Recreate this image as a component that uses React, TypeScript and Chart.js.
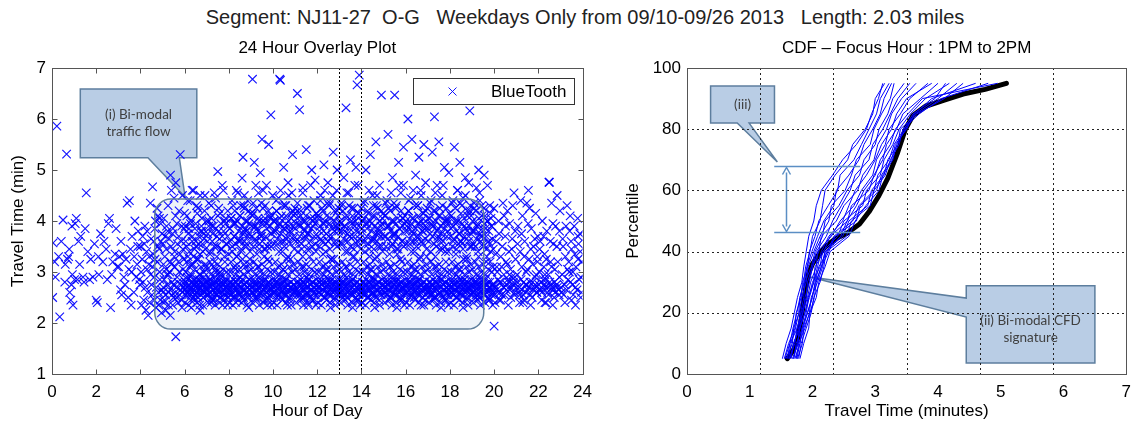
import React, { useEffect, useRef } from 'react';
import { Chart, registerables } from 'chart.js';
Chart.register(...registerables);

const FONT = "'Liberation Sans', Arial, Helvetica, sans-serif";
const CALLOUT_FONT = "Lato, 'Open Sans', sans-serif";

// ---------- Left panel: 24 hour overlay (hour of day, travel time in minutes) ----------
const hourTicks = [0, 2, 4, 6, 8, 10, 12, 14, 16, 18, 20, 22, 24];
const travelTicks = [1, 2, 3, 4, 5, 6, 7];
const focusHours = [13, 14];

// flat [hour, minutes, hour, minutes, ...]
const bt00 = [0.03,2.5, 0.05,3.57, 0.12,3.2, 0.22,5.86, 0.3,3.3, 0.35,2.12, 0.5,4.02, 0.66,5.31, 0.7,3.25, 0.75,3.3, 0.8,2.6, 0.85,2.45, 0.9,3.9, 0.95,2.35, 0.88,2.75, 0.6,3.15, 0.15,2.9, 0.42,3.6, 0.58,2.8, 0.78,3.45, 0.92,2.95];
const bt01 = [1.05,3.95, 1.1,4.05, 1.15,2.85, 1.3,3.7, 1.4,2.9, 1.5,3.85, 1.55,4.55, 1.7,2.85, 1.75,3.25, 1.2,3.6, 1.02,2.85, 1.25,3.15, 1.45,2.8, 1.62,3.4, 1.85,2.9, 1.92,3.55];
const bt02 = [2.0,2.45, 2.05,2.4, 2.1,3.3, 2.2,3.75, 2.3,3.2, 2.45,3.45, 2.55,3.95, 2.6,4.05, 2.7,2.95, 2.85,3.35, 2.95,3.1, 2.12,2.95, 2.35,3.6, 2.5,2.85, 2.75,3.2, 2.9,3.85, 2.65,2.3];
const bt03 = [3.05,3.3, 3.1,2.65, 3.15,2.55, 3.2,3.35, 3.3,2.75, 3.4,4.35, 3.5,4.4, 3.55,3.45, 3.6,3.0, 3.7,2.6, 3.75,4.0, 3.8,2.9, 3.85,3.15, 3.9,3.8, 3.95,2.85, 3.45,2.5, 3.02,3.1, 3.12,3.6, 3.25,2.9, 3.35,3.25, 3.48,3.05, 3.62,3.7, 3.72,3.3, 3.88,3.5, 3.98,2.75, 3.58,2.35];
const bt04 = [4.0,3.5, 4.05,2.35, 4.1,3.7, 4.15,2.45, 4.2,3.9, 4.25,2.25, 4.3,3.05, 4.35,2.15, 4.4,3.3, 4.45,4.35, 4.5,2.75, 4.55,4.67, 4.6,3.6, 4.62,2.9, 4.65,3.85, 4.7,2.3, 4.75,3.2, 4.8,4.1, 4.82,2.6, 4.85,3.45, 4.9,2.45, 4.92,3.95, 4.95,2.2, 4.98,3.75, 4.3,3.8, 4.55,3.1, 4.75,4.25, 4.88,2.85,
  4.03,3.0, 4.08,3.25, 4.12,2.8, 4.18,3.55, 4.22,2.7, 4.28,3.4, 4.32,2.6, 4.38,3.15, 4.42,2.4, 4.48,3.65, 4.52,2.55, 4.58,3.35, 4.63,2.45, 4.68,4.0, 4.72,2.7, 4.78,3.5, 4.83,2.35, 4.87,3.0, 4.93,3.6, 4.97,2.65, 4.46,2.95, 4.66,3.25, 4.86,4.05];
const bt05 = [5.0,3.55, 5.03,2.7, 5.05,4.05, 5.08,2.45, 5.1,3.3, 5.15,2.25, 5.18,3.9, 5.2,2.95, 5.25,4.3, 5.28,2.6, 5.3,3.65, 5.35,2.15, 5.36,4.9, 5.4,3.15, 5.43,2.8, 5.45,3.75, 5.5,2.5, 5.52,4.45, 5.55,3.4, 5.6,1.73, 5.62,2.7, 5.65,3.95, 5.7,2.4, 5.72,3.2, 5.75,4.2, 5.8,5.3, 5.82,2.65, 5.85,3.6, 5.88,2.3, 5.9,4.5, 5.93,3.05, 5.95,2.85, 5.98,3.85, 5.4,4.6, 5.6,4.75,
  5.02,2.6, 5.04,3.15, 5.07,2.85, 5.12,3.7, 5.14,2.55, 5.17,3.45, 5.22,2.75, 5.24,3.8, 5.27,2.35, 5.32,3.0, 5.34,2.65, 5.38,3.5, 5.42,2.55, 5.47,3.85, 5.49,2.75, 5.53,3.3, 5.57,2.6, 5.59,4.1, 5.64,2.5, 5.67,3.55, 5.69,2.8, 5.74,3.7, 5.77,2.55, 5.79,3.35, 5.84,2.75, 5.87,3.9, 5.89,2.6, 5.92,3.45, 5.96,2.7, 5.99,4.15,
  5.06,2.4, 5.16,3.05, 5.26,2.95, 5.36,3.2, 5.46,2.35, 5.56,3.1, 5.66,2.9, 5.76,3.0, 5.86,2.45, 5.96,3.25];
const bt06 = [6.02,2.75, 6.05,3.6, 6.08,2.6, 6.1,4.1, 6.12,2.9, 6.15,3.3, 6.18,2.55, 6.2,3.85, 6.22,2.7, 6.25,4.4, 6.28,2.45, 6.3,3.15, 6.33,2.8, 6.35,3.7, 6.38,2.65, 6.4,4.6, 6.42,2.5, 6.45,3.45, 6.48,2.75, 6.5,3.95, 6.52,2.6, 6.55,3.25, 6.58,2.85, 6.6,4.25, 6.62,2.7, 6.65,3.55, 6.68,2.35, 6.7,2.95, 6.72,3.8, 6.75,2.6, 6.78,4.05, 6.8,2.75, 6.83,3.4, 6.85,2.5, 6.88,3.65, 6.9,2.8, 6.92,4.5, 6.95,2.65, 6.98,3.1, 6.3,2.3, 6.7,2.25,
  6.01,2.65, 6.03,3.9, 6.04,2.8, 6.06,2.55, 6.09,3.5, 6.11,2.7, 6.13,2.85, 6.16,3.75, 6.17,2.6, 6.19,2.75, 6.21,3.4, 6.24,2.65, 6.26,2.9, 6.27,4.0, 6.29,2.55, 6.31,2.7, 6.34,3.6, 6.36,2.8, 6.37,2.6, 6.39,3.3, 6.41,2.75, 6.44,2.85, 6.46,3.85, 6.47,2.55, 6.49,2.7, 6.51,3.5, 6.54,2.8, 6.56,2.6, 6.57,4.15, 6.59,2.75, 6.61,2.5, 6.64,3.7, 6.66,2.65, 6.67,2.85, 6.69,3.35, 6.71,2.7, 6.74,2.55, 6.76,3.9, 6.77,2.8, 6.79,2.65, 6.81,3.55, 6.84,2.75, 6.86,2.9, 6.87,3.75, 6.89,2.6, 6.91,2.7, 6.94,3.45, 6.96,2.8, 6.97,2.55, 6.99,4.0];
const bt07 = [7.02,2.7, 7.05,3.75, 7.08,2.55, 7.1,4.0, 7.12,2.85, 7.15,3.35, 7.18,2.6, 7.2,4.3, 7.22,2.75, 7.25,3.6, 7.28,2.45, 7.3,3.9, 7.32,2.65, 7.35,3.2, 7.38,2.8, 7.4,4.45, 7.42,2.55, 7.45,3.5, 7.48,2.7, 7.5,4.97, 7.52,2.6, 7.55,3.8, 7.58,2.9, 7.6,4.15, 7.62,2.5, 7.65,3.45, 7.68,2.75, 7.7,3.7, 7.72,2.35, 7.75,4.6, 7.78,2.65, 7.8,3.3, 7.82,2.85, 7.85,3.95, 7.88,2.55, 7.9,3.55, 7.92,2.7, 7.95,4.2, 7.98,2.6, 7.4,3.05, 7.6,3.0, 7.2,2.4,
  7.01,2.65, 7.03,3.6, 7.04,2.8, 7.06,2.55, 7.09,3.9, 7.11,2.75, 7.13,2.6, 7.16,3.4, 7.17,2.85, 7.19,2.7, 7.21,4.05, 7.24,2.5, 7.26,2.75, 7.27,3.75, 7.29,2.65, 7.31,2.8, 7.34,3.5, 7.36,2.6, 7.37,2.9, 7.39,3.85, 7.41,2.7, 7.44,2.55, 7.46,3.3, 7.47,2.8, 7.49,2.65, 7.51,4.1, 7.54,2.75, 7.56,2.6, 7.57,3.65, 7.59,2.85, 7.61,2.5, 7.64,3.95, 7.66,2.7, 7.67,2.8, 7.69,3.45, 7.71,2.6, 7.74,2.75, 7.76,3.8, 7.77,2.65, 7.79,2.55, 7.81,4.0, 7.84,2.8, 7.86,2.7, 7.87,3.55, 7.89,2.6, 7.91,2.85, 7.94,3.7, 7.96,2.75, 7.97,2.5, 7.99,3.35];
const bt08 = [8.02,2.7, 8.05,3.85, 8.07,2.6, 8.1,4.05, 8.12,2.8, 8.15,3.5, 8.18,2.5, 8.2,4.3, 8.22,2.75, 8.25,3.7, 8.27,2.65, 8.3,3.95, 8.32,2.4, 8.35,3.3, 8.38,2.85, 8.4,4.55, 8.42,2.6, 8.45,3.6, 8.47,2.7, 8.5,4.1, 8.52,2.55, 8.55,3.4, 8.58,2.8, 8.6,4.84, 8.62,2.65, 8.64,5.25, 8.66,3.8, 8.68,2.45, 8.7,3.15, 8.72,2.75, 8.75,4.0, 8.78,2.6, 8.8,3.55, 8.82,2.7, 8.85,4.4, 8.88,2.5, 8.9,3.75, 8.92,2.85, 8.95,3.25, 8.98,2.65, 8.3,3.05, 8.7,4.25, 8.9,2.3,
  8.01,2.65, 8.03,3.85, 8.04,2.8, 8.06,3.6, 8.09,2.55, 8.11,4.05, 8.13,2.75, 8.16,3.4, 8.17,2.6, 8.19,3.95, 8.21,2.85, 8.24,3.7, 8.26,2.5, 8.27,4.2, 8.29,2.7, 8.31,3.55, 8.34,2.8, 8.36,3.3, 8.37,2.65, 8.39,4.0, 8.41,2.75, 8.44,3.8, 8.46,2.55, 8.47,3.65, 8.49,2.9, 8.51,4.1, 8.54,2.6, 8.56,3.45, 8.57,2.7, 8.59,3.9, 8.61,2.85, 8.64,3.75, 8.66,2.5, 8.67,4.3, 8.69,2.75, 8.71,3.6, 8.74,2.65, 8.76,3.85, 8.77,2.8, 8.79,3.5, 8.81,2.6, 8.84,4.0, 8.86,2.7, 8.87,3.7, 8.89,2.55, 8.91,3.95, 8.94,2.85, 8.96,3.4, 8.97,2.75, 8.99,4.15];
const bt09 = [9.02,2.7, 9.05,3.9, 9.07,6.78, 9.1,2.6, 9.12,4.15, 9.15,2.8, 9.18,3.6, 9.2,2.5, 9.22,4.7, 9.25,2.75, 9.28,3.85, 9.3,2.65, 9.32,4.05, 9.35,2.55, 9.38,3.45, 9.4,2.8, 9.42,4.95, 9.45,2.7, 9.48,3.7, 9.5,5.6, 9.52,2.6, 9.55,4.0, 9.58,2.85, 9.6,3.3, 9.62,2.45, 9.65,4.3, 9.68,2.7, 9.7,3.95, 9.72,2.6, 9.75,3.5, 9.78,2.8, 9.8,5.5, 9.82,2.55, 9.85,4.1, 9.88,2.75, 9.9,6.08, 9.92,3.75, 9.95,2.65, 9.98,4.5, 9.35,3.1, 9.55,4.6, 9.75,2.35, 9.15,5.15,
  9.01,2.7, 9.03,3.7, 9.04,2.6, 9.06,4.1, 9.09,2.85, 9.11,3.5, 9.13,2.55, 9.16,3.9, 9.17,2.75, 9.19,3.65, 9.21,2.65, 9.24,4.25, 9.26,2.8, 9.27,3.35, 9.29,2.5, 9.31,3.8, 9.34,2.7, 9.36,4.0, 9.37,2.9, 9.39,3.55, 9.41,2.6, 9.44,3.75, 9.46,2.75, 9.47,4.35, 9.49,2.55, 9.51,3.6, 9.54,2.8, 9.56,3.95, 9.57,2.65, 9.59,3.45, 9.61,2.7, 9.64,4.05, 9.66,2.85, 9.67,3.7, 9.69,2.6, 9.71,3.85, 9.74,2.75, 9.76,3.25, 9.77,2.5, 9.79,4.2, 9.81,2.8, 9.84,3.6, 9.86,2.65, 9.87,3.9, 9.89,2.7, 9.91,3.5, 9.94,2.55, 9.96,4.1, 9.97,2.85, 9.99,3.8];
const bt10 = [10.02,2.7, 10.05,4.0, 10.08,2.6, 10.1,3.8, 10.12,2.8, 10.15,4.2, 10.18,2.55, 10.2,3.55, 10.22,2.75, 10.25,4.45, 10.28,2.65, 10.3,6.78, 10.32,3.95, 10.35,2.5, 10.38,4.1, 10.4,2.8, 10.42,3.4, 10.45,2.7, 10.48,5.05, 10.5,2.6, 10.52,3.85, 10.55,2.85, 10.58,4.3, 10.6,2.55, 10.62,3.65, 10.65,2.75, 10.68,4.75, 10.7,2.65, 10.72,3.9, 10.75,2.45, 10.78,3.25, 10.8,2.8, 10.82,4.05, 10.85,2.7, 10.88,5.3, 10.9,2.6, 10.92,3.7, 10.95,2.75, 10.98,4.15, 10.33,6.76, 10.45,3.05, 10.65,2.35, 10.85,4.55,
  10.01,2.6, 10.03,4.0, 10.04,2.75, 10.06,3.55, 10.09,2.85, 10.11,3.8, 10.13,2.65, 10.16,4.2, 10.17,2.5, 10.19,3.65, 10.21,2.8, 10.24,3.9, 10.26,2.7, 10.27,3.4, 10.29,2.55, 10.31,4.05, 10.34,2.9, 10.36,3.75, 10.37,2.6, 10.39,3.6, 10.41,2.75, 10.44,4.3, 10.46,2.65, 10.47,3.85, 10.49,2.8, 10.51,3.5, 10.54,2.55, 10.56,3.95, 10.57,2.7, 10.59,4.1, 10.61,2.85, 10.64,3.7, 10.66,2.6, 10.67,3.3, 10.69,2.75, 10.71,4.0, 10.74,2.5, 10.76,3.8, 10.77,2.7, 10.79,3.55, 10.81,2.8, 10.84,4.15, 10.86,2.65, 10.87,3.9, 10.89,2.55, 10.91,3.65, 10.94,2.75, 10.96,3.45, 10.97,2.6, 10.99,4.25];
const bt11 = [11.02,2.7, 11.05,3.95, 11.08,2.6, 11.1,6.5, 11.12,4.2, 11.15,2.8, 11.18,3.6, 11.2,6.18, 11.22,2.55, 11.25,4.1, 11.28,2.75, 11.3,3.45, 11.32,2.65, 11.35,4.65, 11.38,2.8, 11.4,3.85, 11.42,2.5, 11.45,4.0, 11.48,2.7, 11.5,5.4, 11.52,2.6, 11.55,3.75, 11.58,2.85, 11.6,4.3, 11.62,2.55, 11.65,3.3, 11.68,2.75, 11.7,4.05, 11.72,2.65, 11.75,5.0, 11.78,2.8, 11.8,3.9, 11.82,2.45, 11.85,4.4, 11.88,2.7, 11.9,3.55, 11.92,2.6, 11.95,4.15, 11.98,2.75, 11.4,3.1, 11.6,2.35, 11.9,4.8,
  11.01,3.85, 11.03,2.65, 11.04,3.6, 11.06,2.8, 11.09,4.05, 11.11,2.55, 11.13,3.4, 11.16,2.75, 11.17,3.95, 11.19,2.6, 11.21,3.7, 11.24,2.85, 11.26,4.2, 11.27,2.5, 11.29,3.55, 11.31,2.7, 11.34,3.3, 11.36,2.8, 11.37,4.0, 11.39,2.65, 11.41,3.8, 11.44,2.75, 11.46,3.65, 11.47,2.55, 11.49,4.1, 11.51,2.9, 11.54,3.45, 11.56,2.6, 11.57,3.9, 11.59,2.7, 11.61,3.75, 11.64,2.85, 11.66,4.3, 11.67,2.5, 11.69,3.6, 11.71,2.75, 11.74,3.85, 11.76,2.65, 11.77,3.5, 11.79,2.8, 11.81,4.0, 11.84,2.6, 11.86,3.7, 11.87,2.7, 11.89,3.95, 11.91,2.55, 11.94,3.4, 11.96,2.85, 11.97,4.15, 11.99,2.75];
const bt12 = [12.02,2.7, 12.05,4.05, 12.08,2.6, 12.1,3.8, 12.12,2.8, 12.15,4.5, 12.18,2.55, 12.2,3.6, 12.22,2.75, 12.25,4.2, 12.28,2.65, 12.3,5.1, 12.32,3.95, 12.35,2.5, 12.38,3.4, 12.4,2.8, 12.42,4.1, 12.45,2.7, 12.48,4.75, 12.5,2.6, 12.52,3.7, 12.55,2.85, 12.58,4.35, 12.6,2.55, 12.62,3.25, 12.65,2.75, 12.68,3.9, 12.7,2.65, 12.72,5.35, 12.75,2.8, 12.78,4.0, 12.8,2.45, 12.82,3.55, 12.85,2.7, 12.88,4.6, 12.9,2.6, 12.92,3.85, 12.95,2.75, 12.98,4.25, 12.4,3.05, 12.6,2.3, 12.9,5.0,
  12.01,3.7, 12.03,2.7, 12.04,4.1, 12.06,2.6, 12.09,3.5, 12.11,2.85, 12.13,3.9, 12.16,2.55, 12.17,3.65, 12.19,2.75, 12.21,4.25, 12.24,2.65, 12.26,3.35, 12.27,2.8, 12.29,3.8, 12.31,2.5, 12.34,4.0, 12.36,2.7, 12.37,3.55, 12.39,2.9, 12.41,3.75, 12.44,2.6, 12.46,4.35, 12.47,2.75, 12.49,3.6, 12.51,2.55, 12.54,3.95, 12.56,2.8, 12.57,3.45, 12.59,2.65, 12.61,4.05, 12.64,2.7, 12.66,3.7, 12.67,2.85, 12.69,3.85, 12.71,2.6, 12.74,3.25, 12.76,2.75, 12.77,4.2, 12.79,2.5, 12.81,3.6, 12.84,2.8, 12.86,3.9, 12.87,2.65, 12.89,3.5, 12.91,2.7, 12.94,4.1, 12.96,2.55, 12.97,3.8, 12.99,2.85];
const bt13 = [13.02,2.7, 13.05,3.95, 13.08,2.6, 13.1,4.3, 13.12,2.8, 13.15,3.55, 13.18,2.55, 13.2,4.85, 13.22,2.75, 13.25,3.8, 13.28,2.65, 13.3,6.22, 13.32,4.1, 13.35,2.5, 13.38,3.4, 13.4,2.8, 13.42,4.55, 13.45,2.7, 13.48,3.7, 13.5,5.2, 13.52,2.6, 13.55,4.0, 13.58,2.85, 13.6,3.3, 13.62,2.55, 13.65,4.25, 13.68,2.75, 13.7,3.9, 13.72,2.65, 13.75,5.05, 13.78,2.8, 13.8,6.67, 13.82,3.6, 13.85,2.45, 13.88,4.15, 13.9,6.86, 13.92,2.7, 13.95,3.75, 13.98,2.6, 13.3,3.1, 13.6,2.3, 13.85,4.7,
  13.01,2.6, 13.03,4.0, 13.04,2.75, 13.06,3.55, 13.09,2.85, 13.11,3.8, 13.13,2.65, 13.16,4.2, 13.17,2.5, 13.19,3.65, 13.21,2.8, 13.24,3.9, 13.26,2.7, 13.27,3.4, 13.29,2.55, 13.31,4.05, 13.34,2.9, 13.36,3.75, 13.37,2.6, 13.39,3.6, 13.41,2.75, 13.44,4.3, 13.46,2.65, 13.47,3.85, 13.49,2.8, 13.51,3.5, 13.54,2.55, 13.56,3.95, 13.57,2.7, 13.59,4.1, 13.61,2.85, 13.64,3.7, 13.66,2.6, 13.67,3.3, 13.69,2.75, 13.71,4.0, 13.74,2.5, 13.76,3.8, 13.77,2.7, 13.79,3.55, 13.81,2.8, 13.84,4.15, 13.86,2.65, 13.87,3.9, 13.89,2.55, 13.91,3.65, 13.94,2.75, 13.96,3.45, 13.97,2.6, 13.99,4.25];
const bt14 = [14.02,2.7, 14.05,4.0, 14.08,2.6, 14.1,4.35, 14.12,2.8, 14.15,3.6, 14.18,2.55, 14.2,5.0, 14.22,2.75, 14.25,3.85, 14.28,2.65, 14.3,4.15, 14.32,2.5, 14.35,3.45, 14.38,2.8, 14.4,5.3, 14.42,2.7, 14.45,3.95, 14.48,2.6, 14.5,4.5, 14.52,2.85, 14.55,3.65, 14.58,2.55, 14.6,4.1, 14.62,2.75, 14.65,5.55, 14.68,3.3, 14.7,2.65, 14.72,4.25, 14.75,2.8, 14.78,3.75, 14.8,2.45, 14.82,4.7, 14.85,2.7, 14.88,3.9, 14.9,6.47, 14.92,2.6, 14.95,4.05, 14.98,2.75, 14.4,3.05, 14.6,2.3, 14.9,3.5,
  14.01,2.65, 14.03,3.85, 14.04,2.8, 14.06,3.6, 14.09,2.55, 14.11,4.05, 14.13,2.75, 14.16,3.4, 14.17,2.6, 14.19,3.95, 14.21,2.85, 14.24,3.7, 14.26,2.5, 14.27,4.2, 14.29,2.7, 14.31,3.55, 14.34,2.8, 14.36,3.3, 14.37,2.65, 14.39,4.0, 14.41,2.75, 14.44,3.8, 14.46,2.55, 14.47,3.65, 14.49,2.9, 14.51,4.1, 14.54,2.6, 14.56,3.45, 14.57,2.7, 14.59,3.9, 14.61,2.85, 14.64,3.75, 14.66,2.5, 14.67,4.3, 14.69,2.75, 14.71,3.6, 14.74,2.65, 14.76,3.85, 14.77,2.8, 14.79,3.5, 14.81,2.6, 14.84,4.0, 14.86,2.7, 14.87,3.7, 14.89,2.55, 14.91,3.95, 14.94,2.85, 14.96,3.4, 14.97,2.75, 14.99,4.15];
const bt15 = [15.02,2.7, 15.05,4.1, 15.08,2.6, 15.1,3.7, 15.12,2.8, 15.15,4.4, 15.18,2.55, 15.2,5.7, 15.22,2.75, 15.25,3.9, 15.28,2.65, 15.3,4.2, 15.32,2.5, 15.35,3.5, 15.38,2.8, 15.4,4.85, 15.42,2.7, 15.45,4.0, 15.48,2.6, 15.5,6.47, 15.52,3.75, 15.55,2.85, 15.58,4.3, 15.6,2.55, 15.62,3.35, 15.65,2.75, 15.68,5.15, 15.7,2.65, 15.72,3.85, 15.75,2.8, 15.78,4.55, 15.8,2.45, 15.82,3.6, 15.85,2.7, 15.88,4.05, 15.9,5.45, 15.92,2.6, 15.95,3.95, 15.98,2.75, 15.3,3.1, 15.6,2.3, 15.9,4.7,
  15.01,2.7, 15.03,3.7, 15.04,2.6, 15.06,4.1, 15.09,2.85, 15.11,3.5, 15.13,2.55, 15.16,3.9, 15.17,2.75, 15.19,3.65, 15.21,2.65, 15.24,4.25, 15.26,2.8, 15.27,3.35, 15.29,2.5, 15.31,3.8, 15.34,2.7, 15.36,4.0, 15.37,2.9, 15.39,3.55, 15.41,2.6, 15.44,3.75, 15.46,2.75, 15.47,4.35, 15.49,2.55, 15.51,3.6, 15.54,2.8, 15.56,3.95, 15.57,2.65, 15.59,3.45, 15.61,2.7, 15.64,4.05, 15.66,2.85, 15.67,3.7, 15.69,2.6, 15.71,3.85, 15.74,2.75, 15.76,3.25, 15.77,2.5, 15.79,4.2, 15.81,2.8, 15.84,3.6, 15.86,2.65, 15.87,3.9, 15.89,2.7, 15.91,3.5, 15.94,2.55, 15.96,4.1, 15.97,2.85, 15.99,3.8];
const bt16 = [16.02,2.7, 16.05,3.9, 16.08,2.6, 16.1,6.0, 16.12,4.2, 16.15,2.8, 16.18,3.55, 16.2,2.55, 16.22,4.45, 16.25,2.75, 16.28,5.6, 16.3,3.8, 16.32,2.65, 16.35,4.05, 16.38,2.5, 16.4,3.4, 16.42,2.8, 16.45,4.9, 16.48,2.7, 16.5,3.7, 16.52,2.6, 16.55,4.3, 16.58,2.85, 16.6,5.25, 16.62,3.95, 16.65,2.55, 16.68,4.6, 16.7,2.75, 16.72,3.6, 16.75,2.65, 16.78,4.15, 16.8,2.8, 16.82,5.5, 16.85,3.85, 16.88,2.45, 16.9,4.0, 16.92,2.7, 16.95,3.3, 16.98,2.6, 16.4,3.05, 16.7,2.35, 16.9,4.75,
  16.01,4.0, 16.03,2.6, 16.04,3.55, 16.06,2.75, 16.09,3.8, 16.11,2.85, 16.13,4.2, 16.16,2.65, 16.17,3.65, 16.19,2.5, 16.21,3.9, 16.24,2.8, 16.26,3.4, 16.27,2.7, 16.29,4.05, 16.31,2.55, 16.34,3.75, 16.36,2.9, 16.37,3.6, 16.39,2.6, 16.41,4.3, 16.44,2.75, 16.46,3.85, 16.47,2.65, 16.49,3.5, 16.51,2.8, 16.54,3.95, 16.56,2.55, 16.57,4.1, 16.59,2.7, 16.61,3.7, 16.64,2.85, 16.66,3.3, 16.67,2.6, 16.69,4.0, 16.71,2.75, 16.74,3.8, 16.76,2.5, 16.77,3.55, 16.79,2.7, 16.81,4.15, 16.84,2.8, 16.86,3.9, 16.87,2.65, 16.89,3.65, 16.91,2.55, 16.94,3.45, 16.96,2.75, 16.97,4.25, 16.99,2.6];
const bt17 = [17.02,2.7, 17.05,4.05, 17.08,2.6, 17.1,3.75, 17.12,2.8, 17.15,4.4, 17.18,2.55, 17.2,5.35, 17.22,2.75, 17.25,3.9, 17.28,2.65, 17.3,6.04, 17.32,4.2, 17.35,2.5, 17.38,3.5, 17.4,2.8, 17.42,4.7, 17.45,2.7, 17.48,3.85, 17.5,5.55, 17.52,2.6, 17.55,4.1, 17.58,2.85, 17.6,3.65, 17.62,2.55, 17.65,4.5, 17.68,2.75, 17.7,3.95, 17.72,2.65, 17.75,5.05, 17.78,2.8, 17.8,3.4, 17.82,2.45, 17.85,4.25, 17.88,2.7, 17.9,3.8, 17.92,2.6, 17.95,4.95, 17.98,2.75, 17.4,3.1, 17.6,2.3, 17.9,4.0,
  17.01,3.85, 17.03,2.65, 17.04,3.6, 17.06,2.8, 17.09,4.05, 17.11,2.55, 17.13,3.4, 17.16,2.75, 17.17,3.95, 17.19,2.6, 17.21,3.7, 17.24,2.85, 17.26,4.2, 17.27,2.5, 17.29,3.55, 17.31,2.7, 17.34,3.3, 17.36,2.8, 17.37,4.0, 17.39,2.65, 17.41,3.8, 17.44,2.75, 17.46,3.65, 17.47,2.55, 17.49,4.1, 17.51,2.9, 17.54,3.45, 17.56,2.6, 17.57,3.9, 17.59,2.7, 17.61,3.75, 17.64,2.85, 17.66,4.3, 17.67,2.5, 17.69,3.6, 17.71,2.75, 17.74,3.85, 17.76,2.65, 17.77,3.5, 17.79,2.8, 17.81,4.0, 17.84,2.6, 17.86,3.7, 17.87,2.7, 17.89,3.95, 17.91,2.55, 17.94,3.4, 17.96,2.85, 17.97,4.15, 17.99,2.75];
const bt18 = [18.02,2.7, 18.05,3.85, 18.08,2.6, 18.1,4.35, 18.12,2.8, 18.15,3.6, 18.18,2.55, 18.2,5.45, 18.22,2.75, 18.25,4.0, 18.28,2.65, 18.3,3.45, 18.32,2.5, 18.35,4.6, 18.38,2.8, 18.4,3.75, 18.42,2.7, 18.45,5.15, 18.48,2.6, 18.5,4.15, 18.52,2.85, 18.55,3.55, 18.58,2.55, 18.6,4.45, 18.62,2.75, 18.65,3.9, 18.68,2.65, 18.7,4.85, 18.72,2.8, 18.75,3.3, 18.78,2.45, 18.8,4.1, 18.82,2.7, 18.85,3.7, 18.88,2.6, 18.9,6.16, 18.92,4.3, 18.95,2.75, 18.98,3.5, 18.4,3.05, 18.6,2.3, 18.85,4.75,
  18.01,2.7, 18.03,3.7, 18.04,2.6, 18.06,4.1, 18.09,2.85, 18.11,3.5, 18.13,2.55, 18.16,3.9, 18.17,2.75, 18.19,3.65, 18.21,2.65, 18.24,4.25, 18.26,2.8, 18.27,3.35, 18.29,2.5, 18.31,3.8, 18.34,2.7, 18.36,4.0, 18.37,2.9, 18.39,3.55, 18.41,2.6, 18.44,3.75, 18.46,2.75, 18.47,4.35, 18.49,2.55, 18.51,3.6, 18.54,2.8, 18.56,3.95, 18.57,2.65, 18.59,3.45, 18.61,2.7, 18.64,4.05, 18.66,2.85, 18.67,3.7, 18.69,2.6, 18.71,3.85, 18.74,2.75, 18.76,3.25, 18.77,2.5, 18.79,4.2, 18.81,2.8, 18.84,3.6, 18.86,2.65, 18.87,3.9, 18.89,2.7, 18.91,3.5, 18.94,2.55, 18.96,4.1, 18.97,2.85, 18.99,3.8];
const bt19 = [19.02,2.7, 19.05,3.8, 19.08,2.6, 19.1,4.25, 19.12,2.8, 19.15,3.5, 19.18,2.55, 19.2,4.65, 19.22,2.75, 19.25,3.95, 19.28,2.65, 19.3,3.3, 19.32,2.5, 19.35,4.4, 19.38,2.8, 19.4,3.7, 19.42,2.7, 19.45,4.1, 19.48,2.6, 19.5,3.55, 19.52,2.85, 19.55,4.9, 19.58,2.55, 19.6,3.85, 19.62,2.75, 19.65,3.2, 19.68,2.65, 19.7,4.0, 19.72,2.8, 19.75,3.6, 19.78,2.45, 19.8,4.3, 19.82,2.7, 19.85,3.4, 19.88,2.6, 19.9,3.9, 19.92,2.75, 19.95,3.1, 19.98,2.55, 19.3,5.0,
  19.01,2.6, 19.03,4.0, 19.04,2.75, 19.06,3.55, 19.09,2.85, 19.11,3.8, 19.13,2.65, 19.16,4.2, 19.17,2.5, 19.19,3.65, 19.21,2.8, 19.24,3.9, 19.26,2.7, 19.27,3.4, 19.29,2.55, 19.31,4.05, 19.34,2.9, 19.36,3.75, 19.37,2.6, 19.39,3.6, 19.41,2.75, 19.44,4.3, 19.46,2.65, 19.47,3.85, 19.49,2.8, 19.51,3.5, 19.54,2.55, 19.56,3.95, 19.57,2.7, 19.59,4.1, 19.61,2.85, 19.64,3.7, 19.66,2.6, 19.67,3.3, 19.69,2.75, 19.71,4.0, 19.74,2.5, 19.76,3.8, 19.77,2.7, 19.79,3.55, 19.81,2.8, 19.84,4.15, 19.86,2.65, 19.87,3.9, 19.89,2.55, 19.91,3.65, 19.94,2.75, 19.96,3.45, 19.97,2.6, 19.99,4.25];
const bt20 = [20.0,1.94, 20.05,2.7, 20.1,3.6, 20.15,2.6, 20.2,4.0, 20.25,2.8, 20.3,3.3, 20.35,2.55, 20.4,4.35, 20.45,2.7, 20.5,3.7, 20.55,2.65, 20.6,3.15, 20.65,2.8, 20.7,3.95, 20.75,2.5, 20.8,3.45, 20.85,2.75, 20.9,4.55, 20.92,2.6, 20.95,3.8, 20.3,2.45, 20.6,4.2, 20.8,2.9,
  20.02,2.75, 20.07,3.35, 20.12,2.65, 20.17,2.85, 20.22,3.75, 20.27,2.6, 20.32,2.8, 20.37,3.5, 20.42,2.7, 20.47,2.55, 20.52,3.9, 20.57,2.75, 20.62,2.85, 20.67,3.4, 20.72,2.65, 20.77,2.7, 20.82,3.65, 20.87,2.8, 20.93,2.55, 20.97,3.25, 20.12,3.1, 20.45,4.1, 20.7,2.95,
  20.04,2.4, 20.14,3.0, 20.24,2.45, 20.34,3.1, 20.44,2.95, 20.54,3.2, 20.64,2.35, 20.74,3.05, 20.84,4.3, 20.94,2.9];
const bt21 = [21.02,2.7, 21.08,3.9, 21.12,2.6, 21.18,3.4, 21.22,2.85, 21.28,4.1, 21.32,2.55, 21.38,3.6, 21.42,2.75, 21.48,4.35, 21.52,2.65, 21.58,3.25, 21.62,2.8, 21.68,3.85, 21.72,2.5, 21.78,3.5, 21.82,2.7, 21.88,4.15, 21.92,2.6, 21.98,3.7, 21.5,3.05, 21.3,2.4,
  21.04,2.8, 21.06,3.55, 21.14,2.7, 21.16,2.55, 21.24,3.75, 21.26,2.65, 21.34,2.8, 21.36,3.3, 21.44,2.6, 21.46,2.75, 21.54,3.95, 21.56,2.7, 21.64,2.55, 21.66,3.45, 21.74,2.8, 21.76,2.65, 21.84,3.65, 21.86,2.75, 21.94,2.6, 21.96,3.2, 21.2,4.4, 21.6,4.25, 21.9,2.95,
  21.05,2.95, 21.15,2.4, 21.25,3.1, 21.35,2.45, 21.45,3.0, 21.55,4.6, 21.65,2.35, 21.75,3.15, 21.85,2.9, 21.95,3.3];
const bt22 = [22.02,2.75, 22.08,3.6, 22.12,2.65, 22.18,4.0, 22.22,2.85, 22.28,3.35, 22.32,2.7, 22.38,3.8, 22.42,2.6, 22.48,4.76, 22.5,4.76, 22.52,2.8, 22.6,4.35, 22.62,2.7, 22.68,3.55, 22.72,2.5, 22.78,3.9, 22.82,2.75, 22.88,3.2, 22.92,2.65, 22.98,4.2, 22.3,2.4,
  22.04,2.65, 22.06,3.45, 22.14,2.8, 22.16,2.6, 22.24,3.7, 22.26,2.75, 22.34,2.85, 22.36,3.25, 22.44,2.7, 22.46,2.55, 22.54,3.6, 22.56,2.75, 22.64,2.65, 22.66,3.95, 22.74,2.8, 22.76,2.6, 22.84,3.5, 22.86,2.7, 22.94,2.55, 22.96,3.8, 22.3,2.95, 22.6,3.1,
  22.05,3.0, 22.15,2.45, 22.25,3.1, 22.35,2.4, 22.45,2.95, 22.55,3.2, 22.65,2.35, 22.75,3.05, 22.85,4.5, 22.95,2.9];
const bt23 = [23.02,2.7, 23.1,3.65, 23.15,2.55, 23.22,3.3, 23.3,4.3, 23.35,2.85, 23.42,3.8, 23.5,3.45, 23.55,2.75, 23.62,3.9, 23.7,3.1, 23.75,2.65, 23.82,3.55, 23.88,3.75, 23.92,2.9, 23.97,3.2, 23.5,2.45,
  23.05,2.6, 23.12,3.5, 23.18,2.75, 23.25,3.9, 23.28,2.65, 23.38,3.2, 23.45,2.8, 23.48,3.6, 23.58,2.55, 23.65,3.35, 23.68,2.7, 23.78,4.05, 23.85,2.85, 23.9,3.4, 23.95,2.6, 23.4,3.0, 23.8,3.7,
  23.08,2.95, 23.2,2.4, 23.32,3.05, 23.44,4.1, 23.56,3.0, 23.68,2.35, 23.8,3.25, 23.92,2.5];
// additional readings that fill the edges of both bands during the day
const bt06c = [6.02,2.4, 6.06,3.0, 6.1,3.2, 6.14,4.4, 6.18,2.35, 6.22,3.1, 6.26,3.95, 6.3,2.95, 6.34,4.6, 6.38,3.15, 6.42,2.45, 6.46,3.05, 6.5,3.6, 6.54,4.3, 6.58,2.4, 6.62,3.25, 6.66,2.95, 6.7,4.5, 6.74,3.1, 6.78,3.8, 6.82,2.35, 6.86,3.0, 6.9,4.2, 6.94,3.15];
const bt07c = [7.02,3.05, 7.06,2.4, 7.1,4.35, 7.14,3.2, 7.18,2.95, 7.22,3.9, 7.26,2.45, 7.3,3.1, 7.34,4.55, 7.38,2.35, 7.42,3.0, 7.46,3.7, 7.5,3.15, 7.54,4.25, 7.58,2.4, 7.62,2.95, 7.66,3.45, 7.7,4.7, 7.74,3.05, 7.78,2.45, 7.82,3.2, 7.86,4.05, 7.9,3.0, 7.94,2.35];
const bt08c = [8.02,2.4, 8.06,3.0, 8.1,3.2, 8.14,4.4, 8.18,2.35, 8.22,3.1, 8.26,3.95, 8.3,2.95, 8.34,4.6, 8.38,3.15, 8.42,2.45, 8.46,3.05, 8.5,3.6, 8.54,4.3, 8.58,2.4, 8.62,3.25, 8.66,2.95, 8.7,4.5, 8.74,3.1, 8.78,3.8, 8.82,2.35, 8.86,3.0, 8.9,4.2, 8.94,3.15];
const bt09c = [9.02,3.05, 9.06,2.4, 9.1,4.35, 9.14,3.2, 9.18,2.95, 9.22,3.9, 9.26,2.45, 9.3,3.1, 9.34,4.55, 9.38,2.35, 9.42,3.0, 9.46,3.7, 9.5,3.15, 9.54,4.25, 9.58,2.4, 9.62,2.95, 9.66,3.45, 9.7,4.7, 9.74,3.05, 9.78,2.45, 9.82,3.2, 9.86,4.05, 9.9,3.0, 9.94,2.35];
const bt10c = [10.02,2.4, 10.06,3.0, 10.1,3.2, 10.14,4.4, 10.18,2.35, 10.22,3.1, 10.26,3.95, 10.3,2.95, 10.34,4.6, 10.38,3.15, 10.42,2.45, 10.46,3.05, 10.5,3.6, 10.54,4.3, 10.58,2.4, 10.62,3.25, 10.66,2.95, 10.7,4.5, 10.74,3.1, 10.78,3.8, 10.82,2.35, 10.86,3.0, 10.9,4.2, 10.94,3.15];
const bt11c = [11.02,3.05, 11.06,2.4, 11.1,4.35, 11.14,3.2, 11.18,2.95, 11.22,3.9, 11.26,2.45, 11.3,3.1, 11.34,4.55, 11.38,2.35, 11.42,3.0, 11.46,3.7, 11.5,3.15, 11.54,4.25, 11.58,2.4, 11.62,2.95, 11.66,3.45, 11.7,4.7, 11.74,3.05, 11.78,2.45, 11.82,3.2, 11.86,4.05, 11.9,3.0, 11.94,2.35];
const bt12c = [12.02,2.4, 12.06,3.0, 12.1,3.2, 12.14,4.4, 12.18,2.35, 12.22,3.1, 12.26,3.95, 12.3,2.95, 12.34,4.6, 12.38,3.15, 12.42,2.45, 12.46,3.05, 12.5,3.6, 12.54,4.3, 12.58,2.4, 12.62,3.25, 12.66,2.95, 12.7,4.5, 12.74,3.1, 12.78,3.8, 12.82,2.35, 12.86,3.0, 12.9,4.2, 12.94,3.15];
const bt13c = [13.02,3.05, 13.06,2.4, 13.1,4.35, 13.14,3.2, 13.18,2.95, 13.22,3.9, 13.26,2.45, 13.3,3.1, 13.34,4.55, 13.38,2.35, 13.42,3.0, 13.46,3.7, 13.5,3.15, 13.54,4.25, 13.58,2.4, 13.62,2.95, 13.66,3.45, 13.7,4.7, 13.74,3.05, 13.78,2.45, 13.82,3.2, 13.86,4.05, 13.9,3.0, 13.94,2.35];
const bt14c = [14.02,2.4, 14.06,3.0, 14.1,3.2, 14.14,4.4, 14.18,2.35, 14.22,3.1, 14.26,3.95, 14.3,2.95, 14.34,4.6, 14.38,3.15, 14.42,2.45, 14.46,3.05, 14.5,3.6, 14.54,4.3, 14.58,2.4, 14.62,3.25, 14.66,2.95, 14.7,4.5, 14.74,3.1, 14.78,3.8, 14.82,2.35, 14.86,3.0, 14.9,4.2, 14.94,3.15];
const bt15c = [15.02,3.05, 15.06,2.4, 15.1,4.35, 15.14,3.2, 15.18,2.95, 15.22,3.9, 15.26,2.45, 15.3,3.1, 15.34,4.55, 15.38,2.35, 15.42,3.0, 15.46,3.7, 15.5,3.15, 15.54,4.25, 15.58,2.4, 15.62,2.95, 15.66,3.45, 15.7,4.7, 15.74,3.05, 15.78,2.45, 15.82,3.2, 15.86,4.05, 15.9,3.0, 15.94,2.35];
const bt16c = [16.02,2.4, 16.06,3.0, 16.1,3.2, 16.14,4.4, 16.18,2.35, 16.22,3.1, 16.26,3.95, 16.3,2.95, 16.34,4.6, 16.38,3.15, 16.42,2.45, 16.46,3.05, 16.5,3.6, 16.54,4.3, 16.58,2.4, 16.62,3.25, 16.66,2.95, 16.7,4.5, 16.74,3.1, 16.78,3.8, 16.82,2.35, 16.86,3.0, 16.9,4.2, 16.94,3.15];
const bt17c = [17.02,3.05, 17.06,2.4, 17.1,4.35, 17.14,3.2, 17.18,2.95, 17.22,3.9, 17.26,2.45, 17.3,3.1, 17.34,4.55, 17.38,2.35, 17.42,3.0, 17.46,3.7, 17.5,3.15, 17.54,4.25, 17.58,2.4, 17.62,2.95, 17.66,3.45, 17.7,4.7, 17.74,3.05, 17.78,2.45, 17.82,3.2, 17.86,4.05, 17.9,3.0, 17.94,2.35];
const bt18c = [18.02,2.4, 18.06,3.0, 18.1,3.2, 18.14,4.4, 18.18,2.35, 18.22,3.1, 18.26,3.95, 18.3,2.95, 18.34,4.6, 18.38,3.15, 18.42,2.45, 18.46,3.05, 18.5,3.6, 18.54,4.3, 18.58,2.4, 18.62,3.25, 18.66,2.95, 18.7,4.5, 18.74,3.1, 18.78,3.8, 18.82,2.35, 18.86,3.0, 18.9,4.2, 18.94,3.15];
const bt19c = [19.02,3.05, 19.06,2.4, 19.1,4.35, 19.14,3.2, 19.18,2.95, 19.22,3.9, 19.26,2.45, 19.3,3.1, 19.34,4.55, 19.38,2.35, 19.42,3.0, 19.46,3.7, 19.5,3.15, 19.54,4.25, 19.58,2.4, 19.62,2.95, 19.66,3.45, 19.7,4.7, 19.74,3.05, 19.78,2.45, 19.82,3.2, 19.86,4.05, 19.9,3.0, 19.94,2.35];
const btByHour = [bt00, bt01, bt02, bt03, bt04, bt05, bt06, bt07, bt08, bt09, bt10, bt11, bt12, bt13, bt14, bt15, bt16, bt17, bt18, bt19, bt20, bt21, bt22, bt23,
  bt06c, bt07c, bt08c, bt09c, bt10c, bt11c, bt12c, bt13c, bt14c, bt15c, bt16c, bt17c, bt18c, bt19c];

// annotations on the left panel, in data units (hour, minutes)
const bimodalZone = { h0: 4.65, h1: 19.53, t0: 1.88, t1: 4.43 };
const calloutI = { h0: 1.28, h1: 6.55, t0: 5.24, t1: 6.59, b0: 4.34, b1: 5.76, tipH: 6.02, tipT: 4.47, lines: ['(i) Bi-modal', 'traffic flow'] };

// ---------- Right panel: CDF for focus hour ----------
const cdfTimeTicks = [0, 1, 2, 3, 4, 5, 6, 7];
const pctTicks = [0, 20, 40, 60, 80, 100];
const pctLevels = [5, 10, 15, 20, 25, 30, 35, 40, 45, 50, 55, 60, 65, 70, 75, 80, 85, 90, 95];
const day01 = [1.52,1.58,1.66,1.71,1.76,1.83,1.86,1.9,1.94,2.02,2.06,2.14,2.32,2.48,2.7,2.86,2.94,3.05,3.12];
const day02 = [1.55,1.62,1.72,1.74,1.82,1.84,1.92,1.95,2.04,2.1,2.25,2.4,2.44,2.66,2.78,2.9,3.02,3.08,3.22];
const day03 = [1.58,1.68,1.7,1.79,1.83,1.9,1.93,2.02,2.12,2.26,2.3,2.52,2.62,2.7,2.92,2.98,3.1,3.24,3.3];
const day04 = [1.6,1.64,1.76,1.81,1.86,1.88,1.98,2.04,2.16,2.2,2.42,2.55,2.75,2.82,3.0,3.06,3.2,3.28,3.46];
const day05 = [1.63,1.72,1.75,1.85,1.88,1.95,2.0,2.1,2.14,2.38,2.5,2.72,2.8,2.98,3.04,3.18,3.26,3.42,3.65];
const day06 = [1.66,1.7,1.8,1.84,1.92,1.97,2.06,2.08,2.3,2.44,2.66,2.78,2.96,3.02,3.16,3.22,3.4,3.55,3.84];
const day07 = [1.68,1.77,1.79,1.88,1.93,2.02,2.04,2.18,2.28,2.56,2.62,2.9,2.98,3.12,3.18,3.34,3.44,3.72,4.0];
const day08 = [1.7,1.74,1.84,1.9,1.94,2.0,2.12,2.16,2.4,2.5,2.8,2.86,3.08,3.14,3.28,3.38,3.56,3.8,4.18];
const day09 = [1.72,1.8,1.83,1.92,2.0,2.04,2.1,2.24,2.34,2.64,2.74,2.98,3.04,3.22,3.3,3.46,3.6,3.95,4.12];
const day10 = [1.74,1.78,1.88,1.95,1.98,2.08,2.16,2.2,2.48,2.58,2.88,2.94,3.14,3.2,3.36,3.4,3.66,4.1,4.4];
const day11 = [1.76,1.84,1.86,1.96,2.03,2.06,2.14,2.26,2.36,2.7,2.76,3.02,3.1,3.26,3.32,3.5,3.62,3.9,4.6];
const day12 = [1.78,1.82,1.9,1.98,2.02,2.12,2.18,2.22,2.54,2.62,2.92,2.98,3.16,3.24,3.38,3.44,3.7,4.05,4.8];
const day13 = [1.8,1.86,1.94,1.96,2.06,2.1,2.2,2.28,2.58,2.68,2.85,3.06,3.12,3.28,3.34,3.48,3.64,4.0,4.3];
const day14 = [1.62,1.66,1.73,1.78,1.8,1.86,1.89,1.96,2.0,2.12,2.16,2.2,2.36,2.56,2.64,2.84,2.96,3.0,3.15];
const day15 = [1.56,1.64,1.69,1.75,1.8,1.87,1.91,1.99,2.08,2.18,2.34,2.38,2.58,2.74,2.82,2.96,3.08,3.14,3.26];
const day16 = [1.64,1.7,1.78,1.82,1.9,1.92,2.0,2.06,2.22,2.32,2.46,2.6,2.68,2.9,2.96,3.12,3.24,3.36,3.55];
const day17 = [1.75,1.8,1.85,1.92,1.99,2.05,2.14,2.2,2.45,2.55,2.7,2.82,3.0,3.08,3.24,3.32,3.52,3.75,4.95];
const day18 = [1.7,1.76,1.8,1.88,1.95,2.02,2.08,2.14,2.26,2.48,2.58,2.68,2.86,3.0,3.1,3.26,3.34,3.5,3.9];
const dailyCdfs = [day01, day02, day03, day04, day05, day06, day07, day08, day09, day10, day11, day12, day13, day14, day15, day16, day17, day18];
const aggTime = [1.6, 1.7, 1.77, 1.82, 1.86, 1.9, 1.94, 2.0, 2.1, 2.2, 2.35, 2.55, 2.75, 2.9, 3.05, 3.2, 3.35, 3.48, 3.6, 3.8, 4.1, 4.4, 4.75, 5.09];
const aggPct = [5, 8, 12, 18, 24, 29, 33, 36, 39, 41.5, 44, 46, 49, 53, 58, 64, 72, 80, 84.5, 87.5, 89.5, 91.5, 93, 95];

// annotations on the right panel, in data units (minutes, percentile)
const calloutIII = { x0: 0.376, x1: 1.394, p0: 82.0, p1: 94.1, b0: 0.8, b1: 0.99, tipX: 1.44, tipP: 69.3, lines: ['(iii)'] };
const spreadMarks = { x0: 1.39, x1: 2.76, pHigh: 68.0, pLow: 46.4, arrowX: 1.57 };
const calloutII = { x0: 4.45, x1: 6.5, p0: 3.6, p1: 28.8, b0: 18.6, b1: 24.8, tipX: 1.96, tipP: 31.7, lines: ['(ii) Bi-modal CFD', 'signature'] };

const CALLOUT_FILL = '#b9cde5';
const CALLOUT_STROKE = '#5d7e9e';
const FRAME = '#555555';
const POINT_COLOR = 'rgba(0,0,255,0.92)';

function drawCalloutText(ctx: CanvasRenderingContext2D, cx: number, cy: number, lines: string[]) {
  ctx.fillStyle = '#404040';
  ctx.font = `13.5px ${CALLOUT_FONT}`;
  ctx.textAlign = 'center';
  ctx.textBaseline = 'middle';
  const lh = 17;
  lines.forEach((l, i) => ctx.fillText(l, cx, cy + (i - (lines.length - 1) / 2) * lh));
}

function roundRect(ctx: CanvasRenderingContext2D, x0: number, y0: number, x1: number, y1: number, r: number) {
  ctx.beginPath();
  ctx.moveTo(x0 + r, y0);
  ctx.lineTo(x1 - r, y0);
  ctx.arcTo(x1, y0, x1, y0 + r, r);
  ctx.lineTo(x1, y1 - r);
  ctx.arcTo(x1, y1, x1 - r, y1, r);
  ctx.lineTo(x0 + r, y1);
  ctx.arcTo(x0, y1, x0, y1 - r, r);
  ctx.lineTo(x0, y0 + r);
  ctx.arcTo(x0, y0, x0 + r, y0, r);
  ctx.closePath();
}

const leftDeco = {
  id: 'leftDeco',
  beforeDatasetsDraw(chart: any) {
    const { ctx, scales: { x, y } } = chart;
    ctx.save();
    roundRect(ctx, x.getPixelForValue(bimodalZone.h0), y.getPixelForValue(bimodalZone.t1), x.getPixelForValue(bimodalZone.h1), y.getPixelForValue(bimodalZone.t0), 16);
    ctx.fillStyle = 'rgba(222,231,242,0.55)';
    ctx.fill();
    const c = calloutI;
    const X0 = x.getPixelForValue(c.h0), X1 = x.getPixelForValue(c.h1);
    const Y0 = y.getPixelForValue(c.t1), Y1 = y.getPixelForValue(c.t0);
    ctx.beginPath();
    ctx.moveTo(X0, Y0);
    ctx.lineTo(X1, Y0);
    ctx.lineTo(X1, Y1);
    ctx.lineTo(x.getPixelForValue(c.b1), Y1);
    ctx.lineTo(x.getPixelForValue(c.tipH), y.getPixelForValue(c.tipT));
    ctx.lineTo(x.getPixelForValue(c.b0), Y1);
    ctx.lineTo(X0, Y1);
    ctx.closePath();
    ctx.fillStyle = CALLOUT_FILL;
    ctx.fill();
    ctx.strokeStyle = CALLOUT_STROKE;
    ctx.lineWidth = 1.5;
    ctx.stroke();
    drawCalloutText(ctx, (X0 + X1) / 2, (Y0 + Y1) / 2, c.lines);
    ctx.restore();
  },
  afterDatasetsDraw(chart: any) {
    const { ctx, chartArea: a, scales: { x, y } } = chart;
    ctx.save();
    roundRect(ctx, x.getPixelForValue(bimodalZone.h0), y.getPixelForValue(bimodalZone.t1), x.getPixelForValue(bimodalZone.h1), y.getPixelForValue(bimodalZone.t0), 16);
    ctx.strokeStyle = '#5f7f9c';
    ctx.lineWidth = 1.5;
    ctx.stroke();
    ctx.strokeStyle = '#000';
    ctx.lineWidth = 1;
    ctx.setLineDash([2, 2]);
    focusHours.forEach((h) => {
      const px = Math.round(x.getPixelForValue(h)) + 0.5;
      ctx.beginPath();
      ctx.moveTo(px, a.top);
      ctx.lineTo(px, a.bottom);
      ctx.stroke();
    });
    ctx.setLineDash([]);
    ctx.strokeStyle = FRAME;
    ctx.lineWidth = 1;
    const L = Math.round(a.left) + 0.5, R = Math.round(a.right) + 0.5, T = Math.round(a.top) + 0.5, B = Math.round(a.bottom) + 0.5;
    ctx.strokeRect(L, T, R - L, B - T);
    ctx.beginPath();
    hourTicks.forEach((h) => {
      const px = Math.round(x.getPixelForValue(h)) + 0.5;
      ctx.moveTo(px, B); ctx.lineTo(px, B - 5);
      ctx.moveTo(px, T); ctx.lineTo(px, T + 5);
    });
    travelTicks.forEach((t) => {
      const py = Math.round(y.getPixelForValue(t)) + 0.5;
      ctx.moveTo(L, py); ctx.lineTo(L + 5, py);
      ctx.moveTo(R, py); ctx.lineTo(R - 5, py);
    });
    ctx.stroke();
    // legend
    const lx0 = Math.round(a.right - 170) + 0.5, lx1 = Math.round(a.right - 9) + 0.5;
    const ly0 = Math.round(a.top + 10) + 0.5, ly1 = Math.round(a.top + 36) + 0.5;
    ctx.fillStyle = '#fff';
    ctx.fillRect(lx0, ly0, lx1 - lx0, ly1 - ly0);
    ctx.strokeStyle = '#333';
    ctx.strokeRect(lx0, ly0, lx1 - lx0, ly1 - ly0);
    const my = (ly0 + ly1) / 2;
    const ds = chart.data.datasets[0];
    ctx.strokeStyle = ds.borderColor;
    ctx.beginPath();
    ctx.moveTo(lx0 + 35, my - 4); ctx.lineTo(lx0 + 43, my + 4);
    ctx.moveTo(lx0 + 35, my + 4); ctx.lineTo(lx0 + 43, my - 4);
    ctx.stroke();
    ctx.fillStyle = '#000';
    ctx.font = `17px ${FONT}`;
    ctx.textAlign = 'right';
    ctx.textBaseline = 'middle';
    ctx.fillText(ds.label, lx1 - 8, my + 1);
    ctx.textAlign = 'center';
    ctx.fillText('24 Hour Overlay Plot', (a.left + a.right) / 2, 48);
    ctx.restore();
  },
};

const rightDeco = {
  id: 'rightDeco',
  beforeDatasetsDraw(chart: any) {
    const { ctx, chartArea: a, scales: { x, y } } = chart;
    ctx.save();
    {
      const c = calloutIII;
      const X0 = x.getPixelForValue(c.x0), X1 = x.getPixelForValue(c.x1);
      const Y0 = y.getPixelForValue(c.p1), Y1 = y.getPixelForValue(c.p0);
      ctx.beginPath();
      ctx.moveTo(X0, Y0); ctx.lineTo(X1, Y0); ctx.lineTo(X1, Y1);
      ctx.lineTo(x.getPixelForValue(c.b1), Y1);
      ctx.lineTo(x.getPixelForValue(c.tipX), y.getPixelForValue(c.tipP));
      ctx.lineTo(x.getPixelForValue(c.b0), Y1);
      ctx.lineTo(X0, Y1);
      ctx.closePath();
      ctx.fillStyle = CALLOUT_FILL; ctx.fill();
      ctx.strokeStyle = CALLOUT_STROKE; ctx.lineWidth = 1.5; ctx.stroke();
      drawCalloutText(ctx, (X0 + X1) / 2, (Y0 + Y1) / 2, c.lines);
    }
    {
      const c = calloutII;
      const X0 = x.getPixelForValue(c.x0), X1 = x.getPixelForValue(c.x1);
      const Y0 = y.getPixelForValue(c.p1), Y1 = y.getPixelForValue(c.p0);
      ctx.beginPath();
      ctx.moveTo(X0, Y0); ctx.lineTo(X1, Y0); ctx.lineTo(X1, Y1); ctx.lineTo(X0, Y1);
      ctx.lineTo(X0, y.getPixelForValue(c.b0));
      ctx.lineTo(x.getPixelForValue(c.tipX), y.getPixelForValue(c.tipP));
      ctx.lineTo(X0, y.getPixelForValue(c.b1));
      ctx.closePath();
      ctx.fillStyle = CALLOUT_FILL; ctx.fill();
      ctx.strokeStyle = CALLOUT_STROKE; ctx.lineWidth = 1.5; ctx.stroke();
      drawCalloutText(ctx, (X0 + X1) / 2, (Y0 + Y1) / 2 + 5, c.lines);
    }
    ctx.strokeStyle = '#222';
    ctx.lineWidth = 1;
    ctx.setLineDash([2, 3]);
    ctx.beginPath();
    pctTicks.slice(1, -1).forEach((p) => {
      const py = Math.round(y.getPixelForValue(p)) + 0.5;
      ctx.moveTo(a.left, py); ctx.lineTo(a.right, py);
    });
    const span = x.max - x.min;
    for (let k = 1; k < 6; k++) {
      const px = Math.round(x.getPixelForValue(x.min + (span * k) / 6)) + 0.5;
      ctx.moveTo(px, a.top); ctx.lineTo(px, a.bottom);
    }
    ctx.stroke();
    ctx.setLineDash([]);
    ctx.restore();
  },
  afterDatasetsDraw(chart: any) {
    const { ctx, chartArea: a, scales: { x, y } } = chart;
    ctx.save();
    const s = spreadMarks;
    const sx0 = x.getPixelForValue(s.x0), sx1 = x.getPixelForValue(s.x1);
    const yH = Math.round(y.getPixelForValue(s.pHigh)) + 0.5, yL = Math.round(y.getPixelForValue(s.pLow)) + 0.5;
    const ax = Math.round(x.getPixelForValue(s.arrowX)) + 0.5;
    ctx.strokeStyle = '#5b8ec4';
    ctx.lineWidth = 1.5;
    ctx.beginPath();
    ctx.moveTo(sx0, yH); ctx.lineTo(sx1, yH);
    ctx.moveTo(sx0, yL); ctx.lineTo(sx1, yL);
    ctx.moveTo(ax, yH + 6); ctx.lineTo(ax, yL - 6);
    ctx.stroke();
    ctx.beginPath();
    ctx.moveTo(ax - 4, yH + 8); ctx.lineTo(ax, yH + 1); ctx.lineTo(ax + 4, yH + 8);
    ctx.moveTo(ax - 4, yL - 8); ctx.lineTo(ax, yL - 1); ctx.lineTo(ax + 4, yL - 8);
    ctx.stroke();
    ctx.strokeStyle = FRAME;
    ctx.lineWidth = 1;
    const L = Math.round(a.left) + 0.5, R = Math.round(a.right) + 0.5, T = Math.round(a.top) + 0.5, B = Math.round(a.bottom) + 0.5;
    ctx.strokeRect(L, T, R - L, B - T);
    ctx.fillStyle = '#000';
    ctx.font = `17px ${FONT}`;
    ctx.textAlign = 'center';
    ctx.textBaseline = 'middle';
    ctx.fillText('CDF \u2013 Focus Hour : 1PM to 2PM', (a.left + a.right) / 2, 48);
    ctx.restore();
  },
};

const tickFont = { family: FONT, size: 17 };
const titleFont = { family: FONT, size: 17 };

export default function App() {
  const leftRef = useRef<HTMLCanvasElement>(null);
  const rightRef = useRef<HTMLCanvasElement>(null);

  useEffect(() => {
    const points: { x: number; y: number }[] = [];
    btByHour.forEach((arr) => {
      for (let i = 0; i + 1 < arr.length; i += 2) points.push({ x: arr[i], y: arr[i + 1] });
    });
    const left = new Chart(leftRef.current as HTMLCanvasElement, {
      type: 'scatter',
      data: {
        datasets: [{
          label: 'BlueTooth',
          data: points,
          pointStyle: 'crossRot',
          pointRadius: 6,
          pointBorderWidth: 1.15,
          borderColor: POINT_COLOR,
          backgroundColor: POINT_COLOR,
        } as any],
      },
      options: {
        animation: false,
        responsive: false,
        events: [],
        layout: { padding: { top: 68, right: 6, left: 0, bottom: 0 } },
        plugins: { legend: { display: false }, tooltip: { enabled: false } },
        scales: {
          x: {
            type: 'linear', min: 0, max: 24,
            afterBuildTicks: (s: any) => { s.ticks = hourTicks.map((v) => ({ value: v })); },
            afterFit: (s: any) => { s.height = 51; },
            grid: { display: false, drawTicks: false },
            border: { display: false },
            ticks: { font: tickFont, color: '#000', padding: 8, maxRotation: 0, autoSkip: false },
            title: { display: true, text: 'Hour of Day', font: titleFont, color: '#000', padding: { top: 0, bottom: 3 } },
          },
          y: {
            type: 'linear', min: 1, max: 7,
            afterBuildTicks: (s: any) => { s.ticks = travelTicks.map((v) => ({ value: v })); },
            afterFit: (s: any) => { s.width = 52; },
            grid: { display: false, drawTicks: false },
            border: { display: false },
            ticks: { font: tickFont, color: '#000', padding: 6, autoSkip: false },
            title: { display: true, text: 'Travel Time (min)', font: titleFont, color: '#000', padding: { top: 8, bottom: 0 } },
          },
        },
      } as any,
      plugins: [leftDeco],
    });

    const dayDatasets = dailyCdfs.map((arr, i) => ({
      label: `day ${i + 1}`,
      data: arr.map((t, j) => ({ x: t, y: pctLevels[j] })),
      showLine: true,
      borderColor: '#0000ff',
      borderWidth: 1,
      pointRadius: 0,
      tension: 0,
    }));
    const right = new Chart(rightRef.current as HTMLCanvasElement, {
      type: 'scatter',
      data: {
        datasets: [
          ...dayDatasets,
          {
            label: 'All days',
            data: aggTime.map((t, j) => ({ x: t, y: aggPct[j] })),
            showLine: true,
            borderColor: '#000',
            borderWidth: 5,
            pointRadius: 0,
            tension: 0,
            borderCapStyle: 'round',
            borderJoinStyle: 'round',
          },
        ] as any,
      },
      options: {
        animation: false,
        responsive: false,
        events: [],
        layout: { padding: { top: 68, right: 5, left: 0, bottom: 0 } },
        plugins: { legend: { display: false }, tooltip: { enabled: false } },
        scales: {
          x: {
            type: 'linear', min: 0, max: 7,
            afterBuildTicks: (s: any) => { s.ticks = cdfTimeTicks.map((v) => ({ value: v })); },
            afterFit: (s: any) => { s.height = 51; },
            grid: { display: false, drawTicks: false },
            border: { display: false },
            ticks: { font: tickFont, color: '#000', padding: 8, maxRotation: 0, autoSkip: false },
            title: { display: true, text: 'Travel Time (minutes)', font: titleFont, color: '#000', padding: { top: 0, bottom: 3 } },
          },
          y: {
            type: 'linear', min: 0, max: 100,
            afterBuildTicks: (s: any) => { s.ticks = pctTicks.map((v) => ({ value: v })); },
            afterFit: (s: any) => { s.width = 87; },
            grid: { display: false, drawTicks: false },
            border: { display: false },
            ticks: { font: tickFont, color: '#000', padding: 6, autoSkip: false },
            title: { display: true, text: 'Percentile', font: titleFont, color: '#000', padding: { top: 23, bottom: 0 } },
          },
        },
      } as any,
      plugins: [rightDeco],
    });
    return () => { left.destroy(); right.destroy(); };
  }, []);

  return (
    <div style={{ position: 'absolute', left: 0, top: 0, width: 1139, height: 425, background: '#fff', overflow: 'hidden' }}>
      <div style={{ position: 'absolute', left: 0, top: 6, width: 1170, textAlign: 'center', font: `20px ${FONT}`, color: '#222', whiteSpace: 'pre' }}>
        {'Segment: NJ11-27  O-G   Weekdays Only from 09/10-09/26 2013   Length: 2.03 miles'}
      </div>
      <canvas ref={leftRef} width={600} height={425} style={{ position: 'absolute', left: 0, top: 0, width: 600, height: 425 }} />
      <canvas ref={rightRef} width={539} height={425} style={{ position: 'absolute', left: 600, top: 0, width: 539, height: 425 }} />
    </div>
  );
}
